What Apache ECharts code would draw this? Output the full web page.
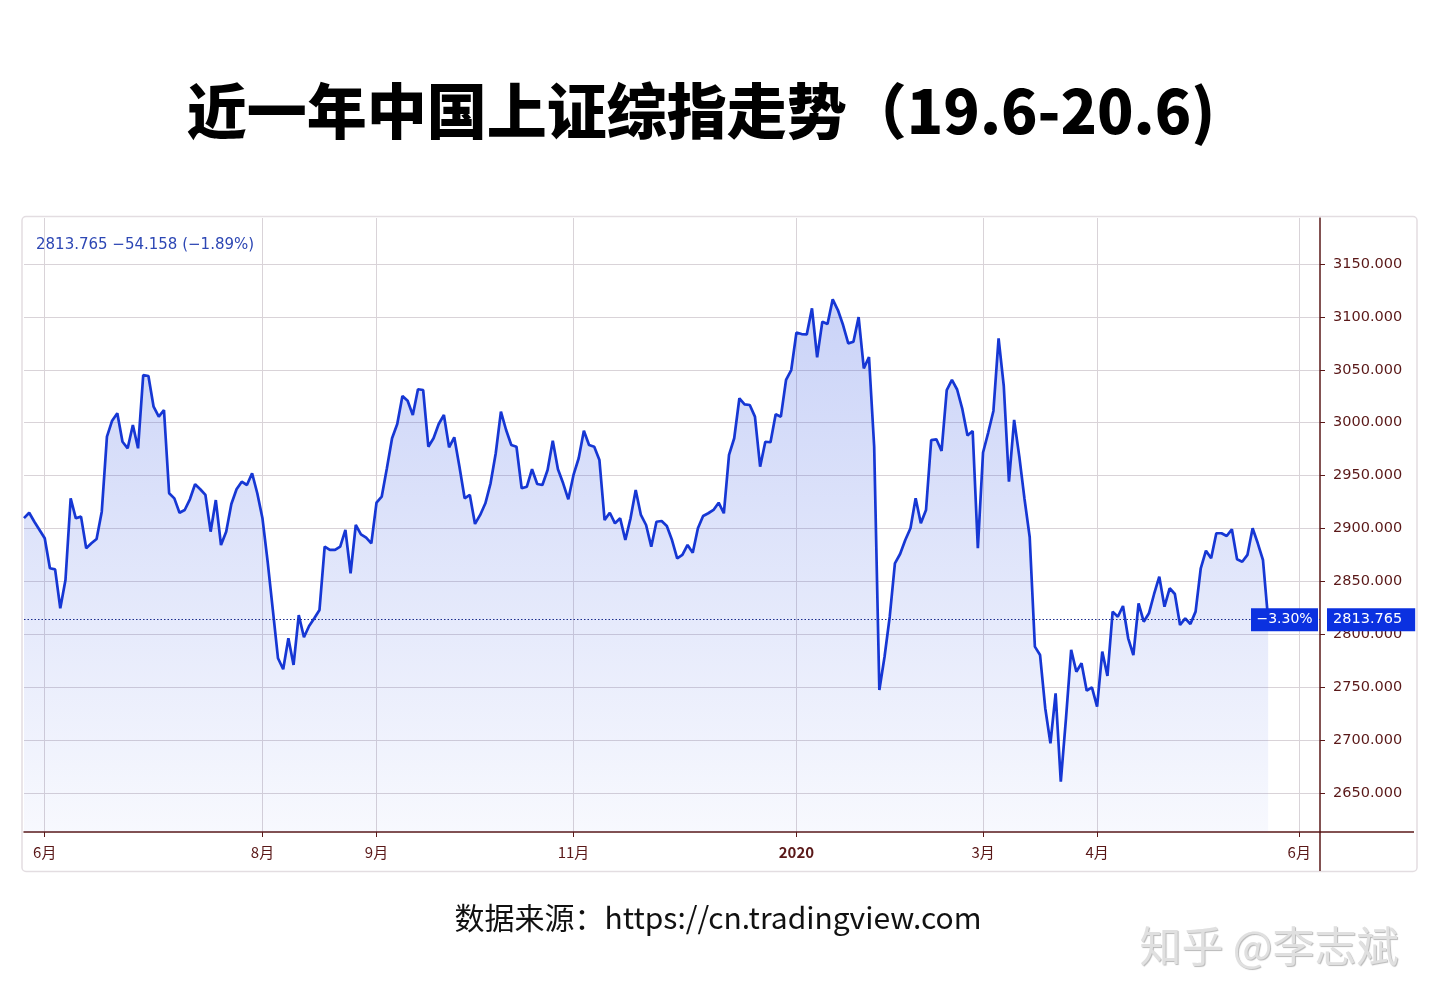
<!DOCTYPE html>
<html>
<head>
<meta charset="utf-8">
<script src="https://cdn.jsdelivr.net/npm/echarts@6/dist/echarts.min.js"></script>
<style>
html,body{margin:0;padding:0;background:#ffffff;}
#c{width:1440px;height:1006px;}
</style>
</head>
<body>
<div id="c"></div>
<script>
// ---- texts ----
const titleText = '近一年中国上证综指走势（19.6-20.6)';
const sourceText = '数据来源：https://cn.tradingview.com';
const watermarkText = '知乎 @李志斌';
const headerText = '2813.765 \u221254.158 (\u22121.89%)';
const changeText = '\u22123.30%';

// ---- data: daily close of the SSE Composite, one value per trading day ----
const closeValues = [
  2909.8, 2914.9, 2906.4, 2898.6, 2890.7, 2862.4, 2861.4, 2824.6, 2851.3, 2928.5,
  2909.6, 2911.2, 2881.3, 2886.0, 2890.1, 2915.9, 2986.8, 3001.9, 3008.9, 2982.0,
  2975.8, 2997.8, 2975.8, 3045.1, 3044.1, 3015.1, 3005.7, 3012.0, 2933.3, 2928.5,
  2914.9, 2917.5, 2927.6, 2941.8, 2937.1, 2931.7, 2897.0, 2926.9, 2884.4, 2897.0,
  2923.2, 2937.1, 2944.2, 2941.1, 2952.2, 2933.3, 2909.6, 2868.6, 2823.0, 2777.3,
  2766.9, 2796.2, 2771.0, 2818.2, 2797.2, 2807.8, 2815.1, 2823.0, 2882.8, 2879.7,
  2879.7, 2882.8, 2898.6, 2857.7, 2903.3, 2894.5, 2891.3, 2886.0, 2924.4, 2930.1,
  2956.9, 2985.3, 2998.8, 3025.2, 3020.8, 3007.3, 3031.6, 3030.9, 2977.3, 2985.3,
  2998.8, 3007.3, 2976.7, 2986.2, 2958.4, 2928.5, 2931.7, 2904.3, 2912.8, 2923.8,
  2942.7, 2971.1, 3010.4, 2993.1, 2978.9, 2977.3, 2938.0, 2939.5, 2956.0, 2942.1,
  2941.1, 2955.3, 2983.0, 2956.0, 2942.7, 2927.6, 2950.6, 2966.4, 2992.4, 2978.9,
  2977.3, 2964.7, 2908.0, 2914.9, 2904.9, 2909.6, 2889.1, 2909.6, 2936.4, 2912.8,
  2903.3, 2882.8, 2906.4, 2907.1, 2902.4, 2889.1, 2871.8, 2875.0, 2884.4, 2877.1,
  2900.2, 2911.8, 2914.4, 2917.5, 2924.4, 2914.4, 2969.5, 2985.3, 3023.1, 3017.4,
  3016.7, 3005.7, 2958.4, 2982.0, 2981.5, 3007.9, 3005.7, 3040.4, 3049.8, 3085.1,
  3083.8, 3083.5, 3108.1, 3061.8, 3095.5, 3093.3, 3116.6, 3106.5, 3092.3, 3075.0,
  3076.6, 3099.9, 3051.4, 3062.1, 2977.3, 2747.4, 2778.8, 2816.6, 2867.1, 2875.9,
  2889.1, 2900.2, 2928.5, 2904.9, 2917.5, 2983.6, 2984.3, 2973.3, 3030.9, 3040.4,
  3031.4, 3013.0, 2987.9, 2992.2, 2881.3, 2971.8, 2990.7, 3011.1, 3079.8, 3034.7,
  2944.2, 3002.6, 2967.9, 2927.9, 2892.0, 2788.3, 2780.4, 2730.1, 2697.0, 2744.2,
  2660.7, 2720.6, 2785.2, 2764.6, 2772.6, 2746.7, 2749.9, 2731.6, 2783.6, 2760.6,
  2821.4, 2816.6, 2826.7, 2796.2, 2780.4, 2829.3, 2811.9, 2819.8, 2838.1, 2854.4,
  2826.1, 2843.5, 2838.1, 2808.8, 2815.1, 2809.7, 2821.4, 2862.4, 2879.0, 2871.8,
  2895.5, 2895.5, 2892.9, 2899.2, 2870.9, 2868.6, 2875.0, 2900.2, 2886.0, 2870.2,
  2813.765
];
const slotCount = 251;                       // trading-day slots shown on the time axis
const monthTickIndex = [4, 46, 68, 106, 149, 185, 207, 246];
const monthTickLabel = ['6月', '8月', '9月', '11月', '2020', '3月', '4月', '6月'];
const boldTickLabel = ['2020'];
const priceTicks = [2650, 2700, 2750, 2800, 2850, 2900, 2950, 3000, 3050, 3100, 3150];
const priceMin = 2613.1;
const priceMax = 3193.5;

// ---- build ----
const categories = Array.from({length: slotCount}, (_, i) => String(i));
const lastValue = closeValues[closeValues.length - 1];
const maroon = '#5a1818';
const gridColor = '#d9d3d8';
const boxBlue = '#0b31e0';
const isMonthTick = (idx) => monthTickIndex.indexOf(idx) >= 0;

const chart = echarts.init(document.getElementById('c'), null, {renderer: 'canvas'});
const option = {
  backgroundColor: '#ffffff',
  animation: false,
  grid: {left: 24, right: 120, top: 218, bottom: 174, containLabel: false},
  xAxis: {
    type: 'category',
    data: categories,
    boundaryGap: false,
    axisLine: {show: true, lineStyle: {color: maroon, width: 1.5}},
    axisTick: {show: true, interval: (i) => isMonthTick(i), length: 5, lineStyle: {color: maroon, width: 1}},
    axisLabel: {
      show: true,
      interval: (i) => isMonthTick(i),
      margin: 13,
      color: maroon,
      fontSize: 15,
      fontFamily: 'Noto Sans CJK SC',
      formatter: (v) => {
        const k = monthTickIndex.indexOf(Number(v));
        if (k < 0) return '';
        const t = monthTickLabel[k];
        return boldTickLabel.indexOf(t) >= 0 ? '{b|' + t + '}' : t;
      },
      rich: {b: {fontWeight: 'bold', fontSize: 15, color: maroon, fontFamily: 'Noto Sans CJK SC'}}
    },
    splitLine: {show: true, interval: (i) => isMonthTick(i), lineStyle: {color: gridColor, width: 1}}
  },
  yAxis: {
    type: 'value',
    position: 'right',
    min: priceMin,
    max: priceMax,
    axisLine: {show: true, lineStyle: {color: maroon, width: 1.5}},
    axisTick: {show: true, customValues: priceTicks, length: 5, lineStyle: {color: maroon, width: 1}},
    axisLabel: {
      show: true,
      customValues: priceTicks,
      margin: 13,
      color: maroon,
      fontSize: 14.5,
      fontFamily: 'DejaVu Sans',
      formatter: (v) => Number(v).toFixed(3)
    },
    splitLine: {show: true, lineStyle: {color: gridColor, width: 1}}
  },
  series: [{
    type: 'line',
    data: closeValues,
    symbol: 'none',
    smooth: false,
    lineStyle: {color: '#1637d4', width: 2.7},
    areaStyle: {
      origin: 'start',
      color: new echarts.graphic.LinearGradient(0, 0, 0, 1, [
        {offset: 0, color: 'rgba(45,80,225,0.36)'},
        {offset: 1, color: 'rgba(45,80,225,0.05)'}
      ])
    },
    markLine: {
      silent: true,
      symbol: ['none', 'none'],
      data: [{yAxis: lastValue}],
      lineStyle: {type: [1.5, 2], color: '#1b2d8c', width: 1},
      label: {
        show: true,
        position: 'end',
        distance: 7,
        formatter: () => lastValue.toFixed(3),
        backgroundColor: boxBlue,
        color: '#ffffff',
        fontSize: 14.5,
        fontFamily: 'DejaVu Sans',
        lineHeight: 16,
        padding: [4, 13, 3, 6]
      }
    },
    markPoint: {
      silent: true,
      data: [{coord: [categories[slotCount - 1], lastValue]}],
      symbol: 'rect',
      symbolSize: [67, 23],
      symbolOffset: [-35.5, 0],
      itemStyle: {color: boxBlue},
      label: {
        show: true,
        position: 'inside',
        formatter: changeText,
        color: '#ffffff',
        fontSize: 14,
        fontFamily: 'DejaVu Sans'
      }
    }
  }],
  graphic: [
    {type: 'rect', silent: true, z: 100,
     shape: {x: 22, y: 216.5, width: 1395, height: 655, r: 4},
     style: {fill: 'none', stroke: '#e3dde1', lineWidth: 1.5}},
    {type: 'line', silent: true, z: 100,
     shape: {x1: 1320, y1: 832, x2: 1414, y2: 832},
     style: {stroke: maroon, lineWidth: 1.5}},
    {type: 'line', silent: true, z: 100,
     shape: {x1: 1320, y1: 832, x2: 1320, y2: 871},
     style: {stroke: maroon, lineWidth: 1.5}},
    {type: 'text', silent: true, z: 100, x: 701, y: 111,
     style: {text: titleText, fontFamily: 'Noto Sans CJK SC', fontWeight: 900, fontSize: 60,
             fill: '#000000', align: 'center', verticalAlign: 'middle'}},
    {type: 'text', silent: true, z: 100, x: 36, y: 245,
     style: {text: headerText, fontFamily: 'DejaVu Sans', fontSize: 15,
             fill: '#2d47b4', align: 'left', verticalAlign: 'middle'}},
    {type: 'text', silent: true, z: 100, x: 718, y: 918,
     style: {text: sourceText, fontFamily: 'Noto Sans CJK SC', fontSize: 30,
             fill: '#111111', align: 'center', verticalAlign: 'middle'}},
    {type: 'text', silent: true, z: 100, x: 1269, y: 946,
     style: {text: watermarkText, fontFamily: 'Noto Sans CJK SC', fontSize: 42,
             fill: '#e0e0e0', align: 'center', verticalAlign: 'middle',
             textShadowColor: 'rgba(0,0,0,0.28)', textShadowBlur: 1,
             textShadowOffsetX: 1, textShadowOffsetY: 1}}
  ]
};
chart.setOption(option);
</script>
</body>
</html>
